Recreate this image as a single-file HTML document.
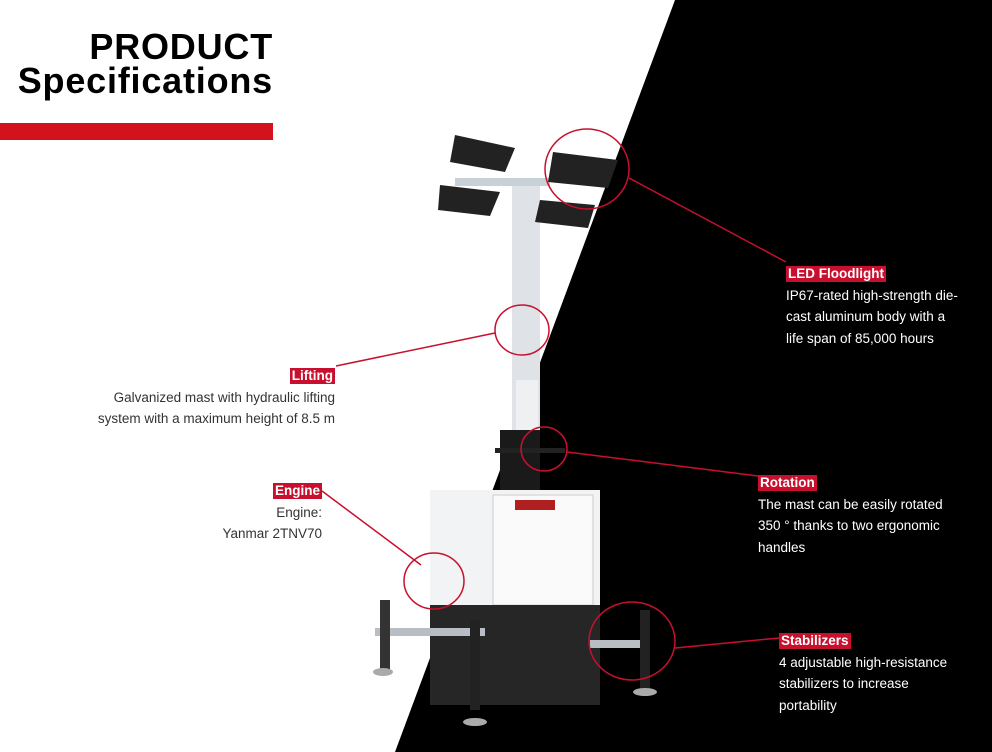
<!DOCTYPE html>
<html><head><style>
body{margin:0;width:992px;height:752px;overflow:hidden;background:#fff;font-family:"Liberation Sans",sans-serif;position:relative}
.t{position:absolute;font-size:13.5px;line-height:21.5px}
.lab{display:inline-block;background:#c8102e;color:#fff;font-weight:bold;font-size:13.5px;line-height:16px;padding:0 2px}
h1{position:absolute;right:719px;top:30px;margin:0;font-size:36px;line-height:34px;text-align:right;font-weight:bold;color:#000;letter-spacing:0.8px}
</style></head><body>
<svg width="992" height="752" style="position:absolute;left:0;top:0">
<polygon points="675,0 992,0 992,752 395,752" fill="#000"/>
<rect x="0" y="123" width="273" height="17" fill="#d3121e"/>
<rect x="512" y="180" width="28" height="320" fill="#dfe3e8"/>
<rect x="516" y="380" width="22" height="50" fill="#eef0f2"/>
<rect x="500" y="430" width="40" height="60" fill="#1a1a1a"/>
<rect x="495" y="448" width="70" height="5" fill="#222"/>
<rect x="455" y="178" width="95" height="8" fill="#c8d0d8"/>
<g fill="#222"><polygon points="455,135 515,148 505,172 450,162"/><polygon points="440,185 500,192 490,216 438,210"/><polygon points="553,152 618,160 608,188 548,182"/><polygon points="540,200 595,205 588,228 535,222"/></g>
<rect x="430" y="490" width="170" height="120" fill="#f2f3f4"/>
<rect x="493" y="495" width="100" height="110" fill="#fafafa" stroke="#ccc"/>
<rect x="515" y="500" width="40" height="10" fill="#b02020"/>
<rect x="430" y="605" width="170" height="100" fill="#262626"/>
<rect x="375" y="628" width="110" height="8" fill="#b8bec4"/>
<rect x="590" y="640" width="60" height="8" fill="#b8bec4"/>
<rect x="470" y="620" width="10" height="90" fill="#222"/>
<rect x="640" y="610" width="10" height="80" fill="#222"/>
<rect x="380" y="600" width="10" height="70" fill="#333"/>
<ellipse cx="475" cy="722" rx="12" ry="4" fill="#aaa"/>
<ellipse cx="645" cy="692" rx="12" ry="4" fill="#aaa"/>
<ellipse cx="383" cy="672" rx="10" ry="4" fill="#aaa"/>
<g fill="none" stroke="#c8102e" stroke-width="1.5">
<ellipse cx="587" cy="169" rx="42" ry="40"/><line x1="629" y1="178" x2="786" y2="262"/>
<ellipse cx="522" cy="330" rx="27" ry="25"/><line x1="495" y1="333" x2="336" y2="366"/>
<ellipse cx="544" cy="449" rx="23" ry="22"/><line x1="567" y1="452" x2="758" y2="476"/>
<ellipse cx="434" cy="581" rx="30" ry="28"/><line x1="421" y1="565" x2="322" y2="491"/>
<ellipse cx="632" cy="641" rx="43" ry="39"/><line x1="675" y1="648" x2="779" y2="638"/>
</g>
</svg>
<h1>PRODUCT<br>Specifications</h1>
<div class="t" style="left:786px;top:263px;color:#fff"><span class="lab">LED Floodlight</span><br>IP67-rated high-strength die-<br>cast aluminum body with a<br>life span of 85,000 hours</div>
<div class="t" style="right:657px;top:365px;color:#333;text-align:right"><span class="lab">Lifting</span><br>Galvanized mast with hydraulic lifting<br>system with a maximum height of 8.5 m</div>
<div class="t" style="right:670px;top:480px;color:#333;text-align:right"><span class="lab">Engine</span><br>Engine:<br>Yanmar 2TNV70</div>
<div class="t" style="left:758px;top:472px;color:#fff"><span class="lab">Rotation</span><br>The mast can be easily rotated<br>350 ° thanks to two ergonomic<br>handles</div>
<div class="t" style="left:779px;top:630px;color:#fff"><span class="lab">Stabilizers</span><br>4 adjustable high-resistance<br>stabilizers to increase<br>portability</div>
</body></html>
